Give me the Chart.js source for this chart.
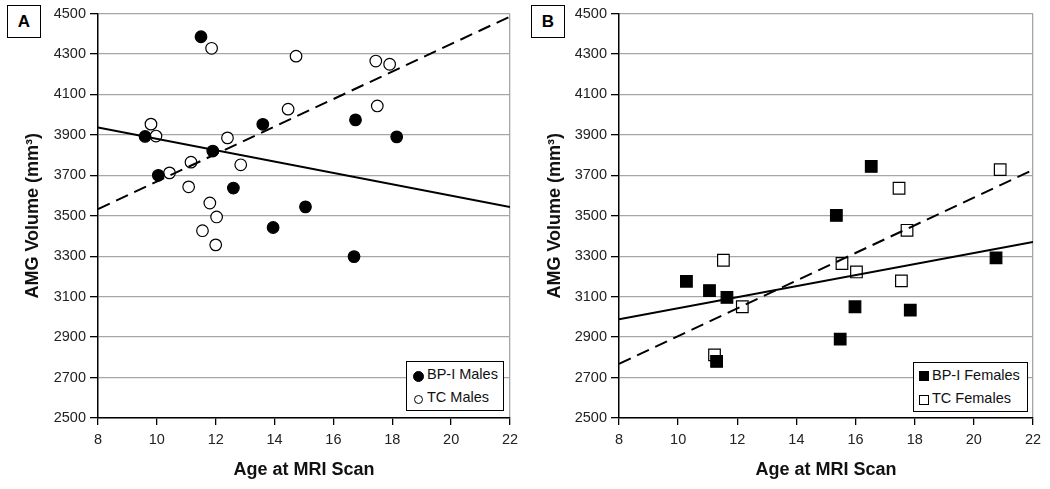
<!DOCTYPE html>
<html>
<head>
<meta charset="utf-8">
<script src="https://cdn.jsdelivr.net/npm/chart.js@4.4.1/dist/chart.umd.min.js"></script>
<style>
  body { margin: 0; background: #fff; font-family: "Liberation Sans", Arial, sans-serif; }
  #wrap { position: relative; width: 1050px; height: 489px; overflow: hidden; }
  canvas { position: absolute; top: 0; }
  .letter { position: absolute; border: 1.3px solid #000; font-weight: bold; font-size: 17px;
            display: flex; align-items: center; justify-content: center; background: #fff; }
  .legend { position: absolute; border: 1.3px solid #000; background: #fff; font-size: 14.5px; color: #111; }
  .legend div { position: absolute; left: 0; white-space: nowrap; }
  .mk { position: absolute; box-sizing: border-box; border: 1.2px solid #000; }
</style>
</head>
<body>
<div id="wrap">
  <canvas id="chartA" width="525" height="489" style="left:0"></canvas>
  <canvas id="chartB" width="525" height="489" style="left:525px"></canvas>
  <div class="letter" style="left:7px;top:5px;width:32px;height:31px">A</div>
  <div class="letter" style="left:531px;top:5px;width:32px;height:31px">B</div>
  <div class="legend" style="left:406px;top:361px;width:96px;height:48px">
    <span class="mk" style="left:6px;top:9px;width:11px;height:11px;border-radius:50%;background:#000"></span>
    <div style="left:20px;top:4px">BP-I Males</div>
    <span class="mk" style="left:7px;top:33px;width:9px;height:9px;border-radius:50%;background:#fff"></span>
    <div style="left:20px;top:27px">TC Males</div>
  </div>
  <div class="legend" style="left:913px;top:362px;width:113px;height:48px">
    <span class="mk" style="left:5px;top:8px;width:10px;height:10px;background:#000"></span>
    <div style="left:18px;top:4px">BP-I Females</div>
    <span class="mk" style="left:5px;top:32px;width:10px;height:10px;background:#fff"></span>
    <div style="left:18px;top:27px">TC Females</div>
  </div>
</div>
<script>
const yTicks = [2500, 2700, 2900, 3100, 3300, 3500, 3700, 3900, 4100, 4300, 4500];
const xTicks = [8, 10, 12, 14, 16, 18, 20, 22];

// Panel A: males
const bpMalesAge = [11.5, 9.6, 10.05, 11.9, 12.6, 13.6, 13.95, 15.05, 16.75, 18.15, 16.7];
const bpMalesVol = [4385, 3892, 3700, 3820, 3637, 3952, 3442, 3544, 3974, 3890, 3298];
const tcMalesAge = [11.86, 14.73, 17.44, 17.91, 14.46, 17.49, 9.8, 9.97, 12.4, 11.16, 10.43, 12.85, 11.08, 11.8, 12.03, 11.55, 12.0];
const tcMalesVol = [4328, 4289, 4265, 4249, 4027, 4043, 3953, 3894, 3885, 3765, 3712, 3752, 3643, 3563, 3494, 3426, 3356];
const bpMalesFit = [3936, 3543];   // at age 8 and 22
const tcMalesFit = [3533, 4485];

// Panel B: females
const bpFemalesAge = [16.53, 15.35, 10.28, 11.06, 11.65, 11.3, 15.48, 15.98, 17.85, 20.75];
const bpFemalesVol = [3744, 3502, 3176, 3130, 3096, 2780, 2890, 3050, 3033, 3292];
const tcFemalesAge = [20.89, 17.47, 17.74, 11.53, 15.54, 16.03, 17.55, 12.17, 11.23];
const tcFemalesVol = [3728, 3636, 3428, 3280, 3264, 3222, 3178, 3050, 2812];
const bpFemalesFit = [2988, 3370];
const tcFemalesFit = [2768, 3727];

const fitAges = [xTicks[0], xTicks[xTicks.length - 1]];
const pts = (xs, ys) => xs.map((x, i) => ({ x: x, y: ys[i] }));

const FONT = "'Liberation Sans', Arial, sans-serif";
const GRID = "#a6a6a6";

function makeChart(id, opts) {
  const datasets = [
    { type: "line", data: pts(fitAges, opts.bpFit), borderColor: "#000", borderWidth: 2,
      pointRadius: 0, fill: false },
    { type: "line", data: pts(fitAges, opts.tcFit), borderColor: "#000", borderWidth: 2,
      borderDash: [13, 7], pointRadius: 0, fill: false },
    { data: pts(opts.bpAge, opts.bpVol), pointStyle: opts.style, pointRadius: opts.radius,
      backgroundColor: "#000", borderColor: "#000", borderWidth: 1.2 },
    { data: pts(opts.tcAge, opts.tcVol), pointStyle: opts.style, pointRadius: opts.radius,
      backgroundColor: "#fff", borderColor: "#000", borderWidth: 1.2 }
  ];
  return new Chart(document.getElementById(id), {
    type: "scatter",
    data: { datasets },
    options: {
      responsive: false,
      animation: false,
      layout: { padding: { left: 0, right: opts.padRight, top: 13.5, bottom: 8 } },
      plugins: { legend: { display: false }, tooltip: { enabled: false } },
      scales: {
        x: {
          type: "linear", min: 8, max: 22,
          afterBuildTicks: s => { s.ticks = xTicks.map(v => ({ value: v })); },
          afterFit: s => { s.height = 489 - 418 - 8; },
          ticks: { color: "#222", font: { family: FONT, size: 14.5 }, padding: 6,
                   callback: v => String(v) },
          grid: {
            color: c => (c.tick && c.tick.value === 22 ? GRID : "rgba(0,0,0,0)"),
            tickColor: "#000", tickLength: 7, lineWidth: 1.3
          },
          border: { color: "#000", width: 1.5 },
          title: { display: true, text: "Age at MRI Scan", color: "#111",
                   font: { family: FONT, size: 18, weight: "bold" }, padding: { top: 0, bottom: 0 } }
        },
        y: {
          min: 2500, max: 4500,
          afterBuildTicks: s => { s.ticks = yTicks.map(v => ({ value: v })); },
          afterFit: s => { s.width = opts.yWidth; },
          ticks: { color: "#222", font: { family: FONT, size: 14.5 }, padding: 4,
                   callback: v => String(v) },
          grid: { color: GRID, tickColor: "#000", tickLength: 8, lineWidth: 1.3 },
          border: { color: "#000", width: 1.5 },
          title: { display: true, text: "AMG Volume (mm³)", color: "#111",
                   font: { family: FONT, size: 18, weight: "bold" }, padding: { top: opts.titlePad, bottom: 0 } }
        }
      }
    }
  });
}

makeChart("chartA", {
  bpAge: bpMalesAge, bpVol: bpMalesVol, tcAge: tcMalesAge, tcVol: tcMalesVol,
  bpFit: bpMalesFit, tcFit: tcMalesFit, style: "circle", radius: 5.8,
  padRight: 15, yWidth: 98, titlePad: 22
});
makeChart("chartB", {
  bpAge: bpFemalesAge, bpVol: bpFemalesVol, tcAge: tcFemalesAge, tcVol: tcFemalesVol,
  bpFit: bpFemalesFit, tcFit: tcFemalesFit, style: "rect", radius: 8.2,
  padRight: 17, yWidth: 94, titlePad: 19
});
</script>
</body>
</html>
